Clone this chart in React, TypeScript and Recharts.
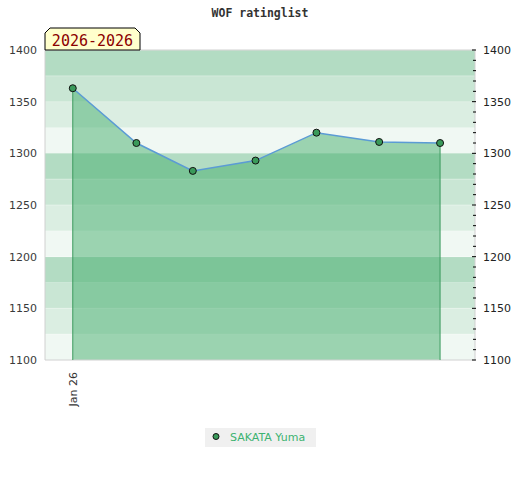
import React from "react";
import {
  ComposedChart,
  Area,
  Line,
  XAxis,
  YAxis,
  CartesianGrid,
  ReferenceArea,
  ReferenceLine
} from "recharts";

// rating history (x = day offset from start of the axis)
const dayX = [3.1, 10.2, 16.5, 23.5, 30.3, 37.3, 44.1];
const ratings = [1363, 1310, 1283, 1293, 1320, 1311, 1310];
const playerName = "SAKATA Yuma";
const seasonLabel = "2026-2026";
const chartTitle = "WOF ratinglist";

const xTicks = [3.1];
const xTickLabels = ["Jan 26"];
const yMinorTicks = [
  1100, 1110, 1120, 1130, 1140, 1150, 1160, 1170, 1180, 1190, 1200, 1210, 1220,
  1230, 1240, 1250, 1260, 1270, 1280, 1290, 1300, 1310, 1320, 1330, 1340, 1350,
  1360, 1370, 1380, 1390, 1400
];
// left axis ticks every 25 drive the background bands; only multiples of 50 get a label
const bandTicks = [1100, 1125, 1150, 1175, 1200, 1225, 1250, 1275, 1300, 1325, 1350, 1375, 1400];
const bandColors = ["#b3dcc3", "#c9e6d4", "#dbeee2", "#f0f8f3"];

const data = dayX.map((x, i) => ({ x, rating: ratings[i] }));
const last = data.length - 1;

const RightTick = (props: any) => {
  const { x, y, payload } = props;
  const v = payload.value;
  const major = v % 50 === 0;
  return (
    <g>
      <line x1={x - (major ? 4 : 3)} x2={x} y1={y} y2={y} stroke="#000" />
      {major && (
        <text x={x + 7} y={y + 4} fontSize={11} fill="#222" fontFamily="DejaVu Sans">
          {v}
        </text>
      )}
    </g>
  );
};

const BottomTick = (props: any) => {
  const { x, y, payload } = props;
  const label = xTickLabels[xTicks.indexOf(payload.value)] ?? "";
  return (
    <text
      x={x + 4}
      y={y + 4}
      transform={`rotate(-90, ${x + 4}, ${y + 4})`}
      textAnchor="end"
      fontSize={11}
      fill="#333"
      fontFamily="DejaVu Sans"
    >
      {label}
    </text>
  );
};

export default function App() {
  return (
    <div style={{ position: "absolute", left: 0, top: 0, width: 520, height: 480, background: "#fff" }}>
      <ComposedChart width={520} height={480} data={data} margin={{ top: 50, right: 0, left: 0, bottom: 0 }}>
        <CartesianGrid
          yAxisId="left"
          vertical={false}
          horizontalFill={bandColors}
          fillOpacity={1}
          stroke="#ffffff"
          strokeOpacity={0.35}
        />
        <XAxis
          dataKey="x"
          type="number"
          domain={[0, 48]}
          ticks={xTicks}
          height={120}
          axisLine={false}
          tickLine={false}
          tick={<BottomTick />}
        />
        <YAxis
          yAxisId="left"
          domain={[1100, 1400]}
          ticks={bandTicks}
          interval={0}
          width={45}
          axisLine={false}
          tickLine={false}
          tickFormatter={(v: number) => (v % 50 === 0 ? String(v) : "")}
          tick={{ fontSize: 11, fill: "#3a3a3a", fontFamily: "DejaVu Sans" }}
        />
        <YAxis
          yAxisId="right"
          orientation="right"
          domain={[1100, 1400]}
          ticks={yMinorTicks}
          interval={0}
          width={45}
          axisLine={false}
          tickLine={false}
          tickSize={1}
          tickMargin={0}
          tick={<RightTick />}
        />
        <Area
          yAxisId="left"
          dataKey="rating"
          type="linear"
          baseValue={1100}
          fill="#45ad6d"
          fillOpacity={0.5}
          stroke="none"
          isAnimationActive={false}
        />
        <ReferenceArea
          yAxisId="left"
          x1={0}
          x2={48}
          y1={1100}
          y2={1400}
          fill="none"
          stroke="#d0d0d0"
          strokeWidth={1}
        />
        <ReferenceLine
          yAxisId="left"
          segment={[{ x: data[0].x, y: 1100 }, { x: data[0].x, y: data[0].rating }]}
          stroke="#3c9a5f"
        />
        <ReferenceLine
          yAxisId="left"
          segment={[{ x: data[last].x, y: 1100 }, { x: data[last].x, y: data[last].rating }]}
          stroke="#3c9a5f"
        />
        <Line
          yAxisId="right"
          dataKey="rating"
          type="linear"
          stroke="#5b9bd5"
          strokeWidth={1.5}
          dot={{ r: 3.5, fill: "#3a9a5a", stroke: "#111", strokeWidth: 1 }}
          activeDot={false}
          isAnimationActive={false}
        />
      </ComposedChart>
      <svg width={520} height={480} style={{ position: "absolute", left: 0, top: 0, pointerEvents: "none" }}>
        <text
          x={260}
          y={17}
          textAnchor="middle"
          fontSize={11.5}
          fontWeight="bold"
          fill="#333"
          fontFamily="DejaVu Sans Mono"
        >
          {chartTitle}
        </text>
        <polygon points="45,50 45,33 50,28 135,28 140,33 140,50" fill="#ffffcc" stroke="#000" strokeWidth={1} />
        <text x={92.5} y={46} textAnchor="middle" fontSize={15} fill="#8b0000" fontFamily="DejaVu Sans Mono">
          {seasonLabel}
        </text>
        <rect x={205} y={428} width={111} height={19} fill="#f0f0f0" />
        <circle cx={216} cy={436.5} r={3} fill="#3a9a5a" stroke="#111" strokeWidth={1} />
        <text x={230} y={441} fontSize={11} fill="#3cb371" fontFamily="DejaVu Sans">
          {playerName}
        </text>
      </svg>
    </div>
  );
}
